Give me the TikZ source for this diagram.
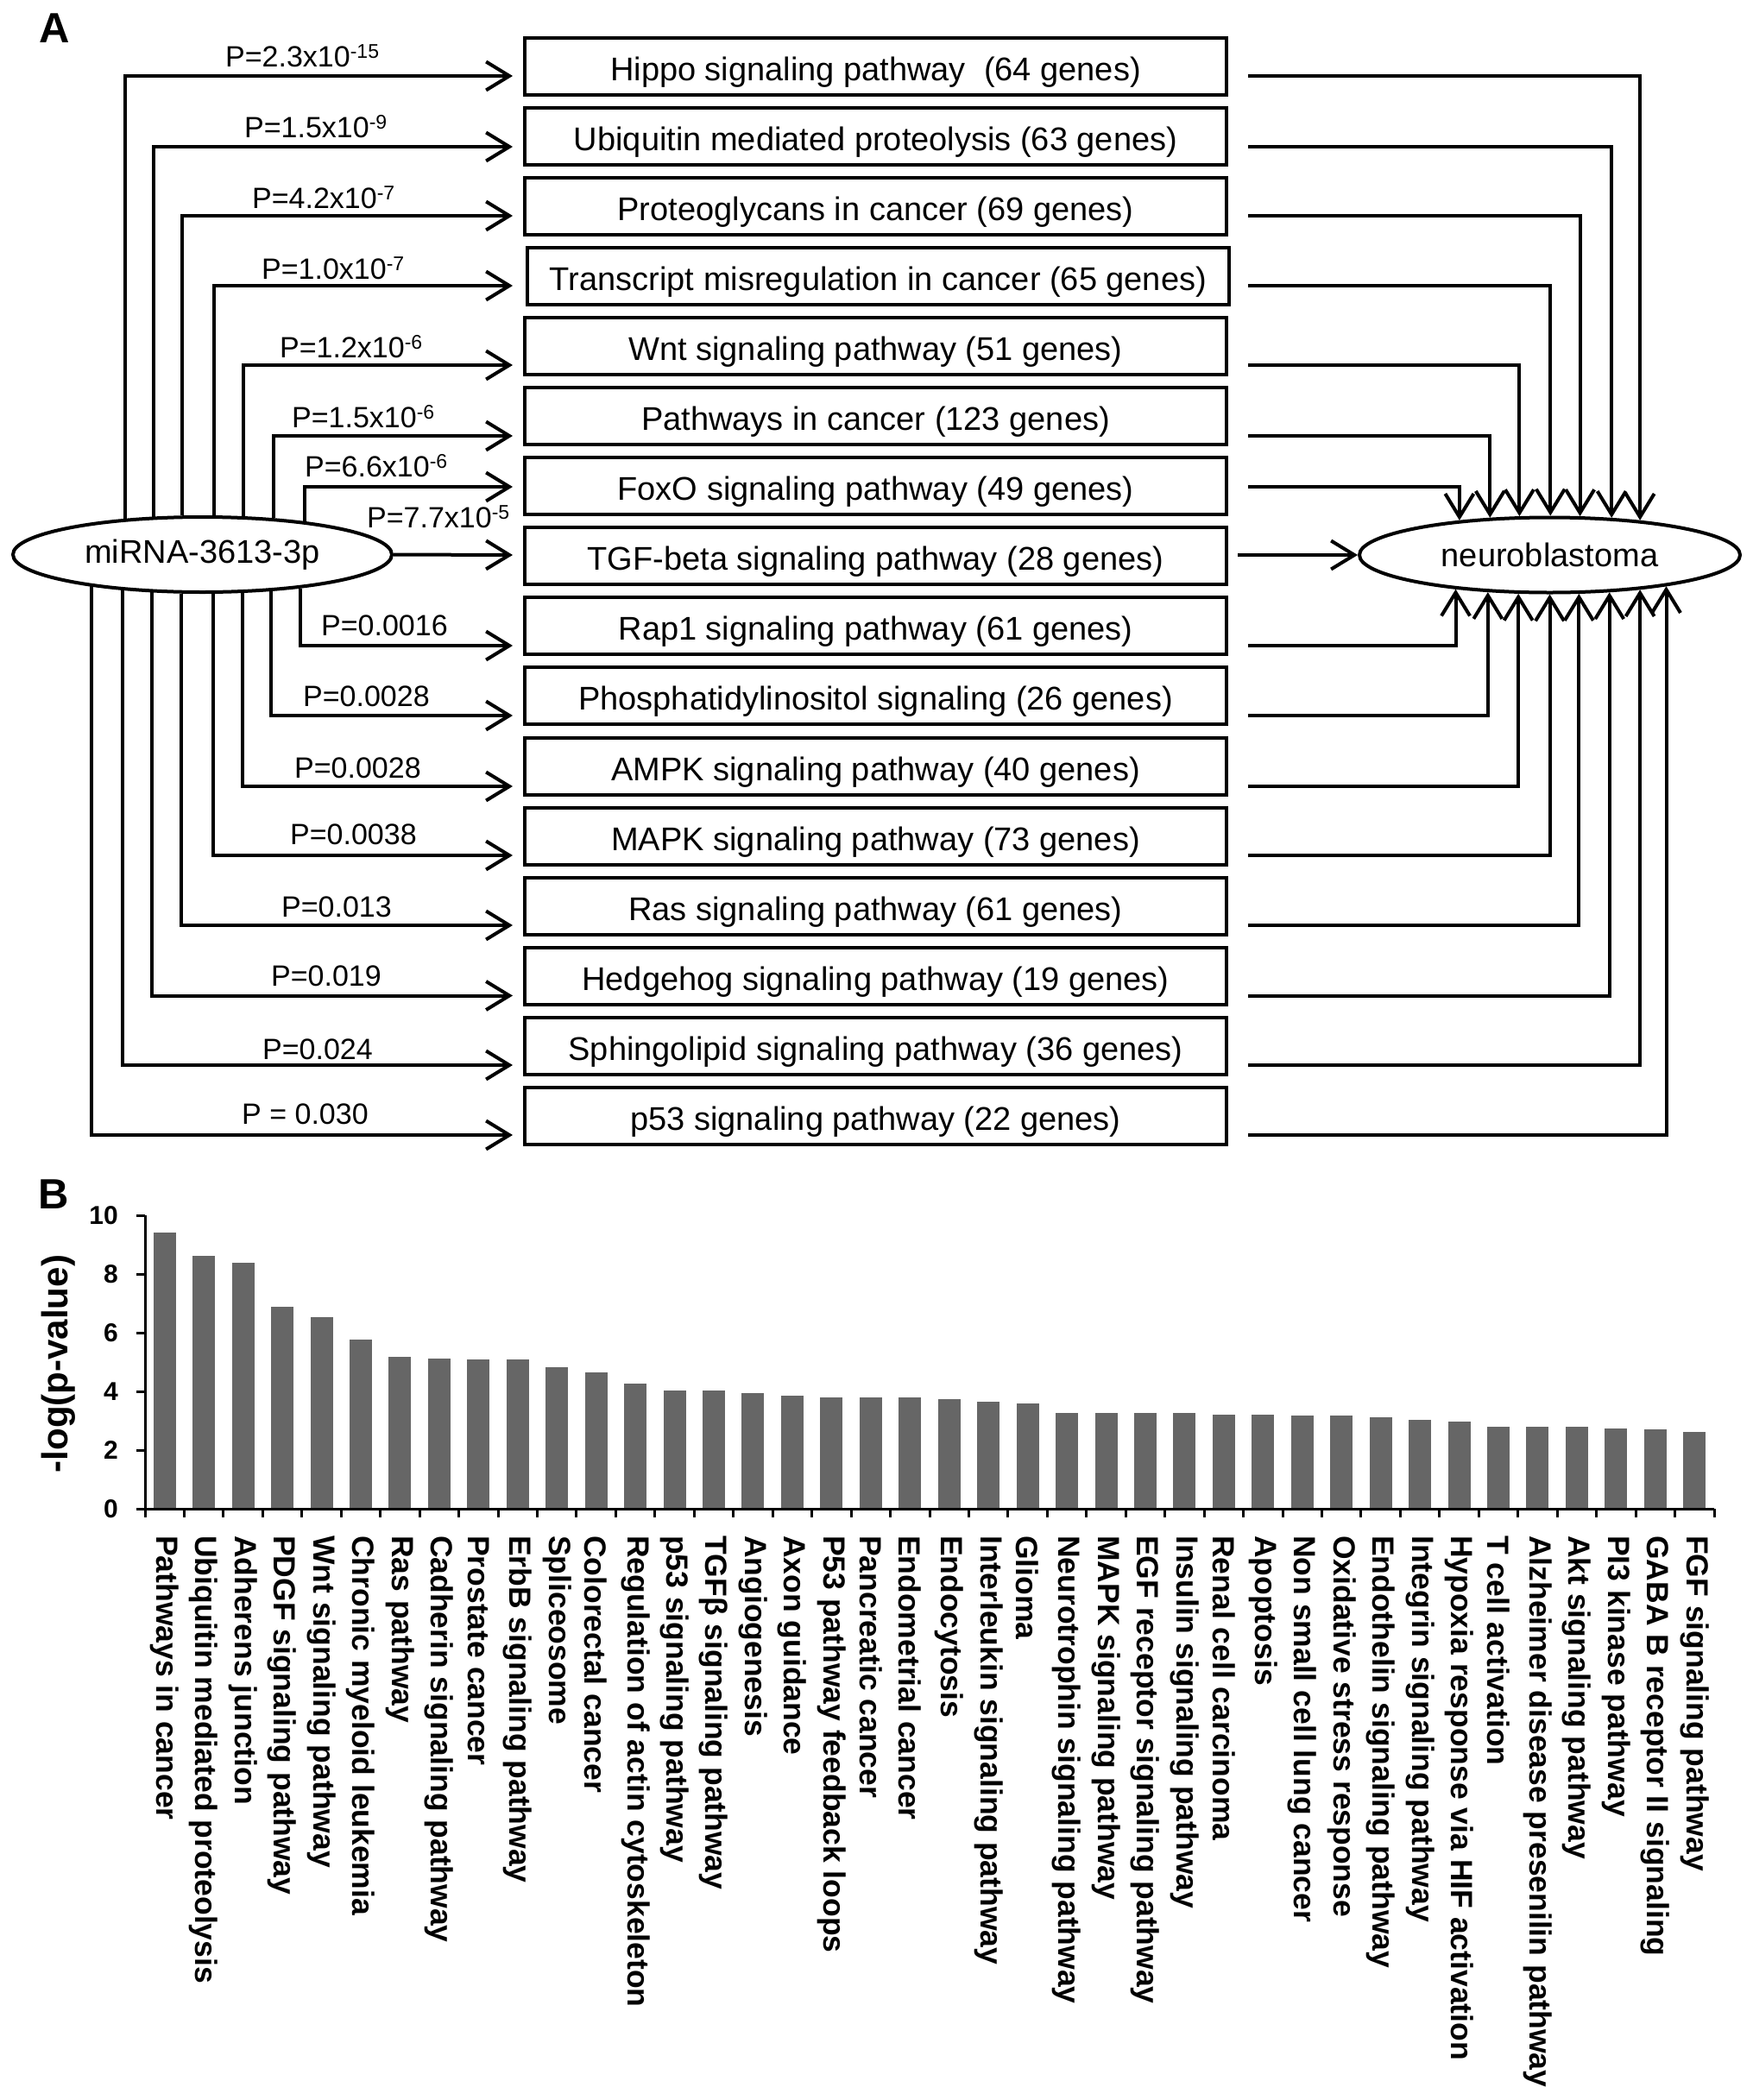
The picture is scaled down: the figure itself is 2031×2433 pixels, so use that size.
\documentclass[tikz,border=0pt]{standalone}
\usepackage{fontspec}
\setmainfont{Liberation Sans}
\usetikzlibrary{arrows.meta,shapes.geometric}
\newcommand{\myfs}[1]{\fontsize{#1}{#1}\selectfont}
\newcommand{\pexp}[1]{\raisebox{10pt}{\myfs{23}#1}}
\definecolor{barc}{HTML}{666666}
\tikzset{
  box/.style={draw, line width=4pt, minimum width=813pt, minimum height=66pt, inner sep=0pt, text height=33pt, text depth=0pt, font=\myfs{38}},
  oval/.style={draw, ellipse, line width=4pt, minimum height=87pt, inner sep=0pt, font=\myfs{38}},
  conn/.style={line width=4pt, -{Straight Barb[length=27pt,width=33pt]}},
  plab/.style={anchor=base west, inner sep=0pt, font=\myfs{34}},
  panel/.style={anchor=base west, inner sep=0pt, font=\bfseries\myfs{49}},
  cat/.style={rotate=-90, anchor=west, inner sep=0pt, font=\bfseries\myfs{35.5}},
  ylab/.style={anchor=east, inner sep=0pt, font=\bfseries\myfs{30}},
  axis/.style={line width=3pt},
  bar/.style={fill=barc}
}
\begin{document}
\begin{tikzpicture}[x=1pt,y=-1pt]
\useasboundingbox (0,0) rectangle (2031,2433);
% ---------- Panel A ----------
\node[panel] (pA) at (45,49) {A};
\node[oval, minimum width=439pt] (mirna) at (234.5,642.5) {miRNA-3613-3p};
\node[oval, minimum width=441pt] (neuro) at (1795.5,643) {neuroblastoma};
\foreach \i/\txt in {
 1/{Hippo signaling pathway \ (64 genes)},
 2/{Ubiquitin mediated proteolysis (63 genes)},
 3/{Proteoglycans in cancer (69 genes)},
 5/{Wnt signaling pathway (51 genes)},
 6/{Pathways in cancer (123 genes)},
 7/{FoxO signaling pathway (49 genes)},
 8/{TGF-beta signaling pathway (28 genes)},
 9/{Rap1 signaling pathway (61 genes)},
 10/{Phosphatidylinositol signaling (26 genes)},
 11/{AMPK signaling pathway (40 genes)},
 12/{MAPK signaling pathway (73 genes)},
 13/{Ras signaling pathway (61 genes)},
 14/{Hedgehog signaling pathway (19 genes)},
 15/{Sphingolipid signaling pathway (36 genes)},
 16/{p53 signaling pathway (22 genes)}}
  \node[box] (b\i) at (1014.5,{76.5+81.1*(\i-1)}) {\txt};
\node[box] (b4) at (1017.5,{76.5+81.1*3}) {Transcript misregulation in cancer (65 genes)};
% connectors
\foreach \i/\ly/\al/\ar in {
 1/88/155.9/21.0, 2/170/142.6/31.5, 3/250/117.45/52.5, 4/331/74.6/89.4,
 5/423/43.1/128.3, 6/505/27.1/148.5, 7/564/18.2/159.2,
 9/748/341.8/200.8, 10/829/332.9/211.5, 11/911/316.9/231.7, 12/991/285.4/270.6,
 13/1072/242.55/307.5, 14/1153.5/217.4/328.5, 15/1234/204.1/339.0, 16/1315/196.1/345.75}{
  \coordinate (t\i) at (594,\ly);
  \coordinate (s\i) at (1446,\ly);
  \draw[conn] (mirna.\al) |- (t\i);
  \draw[conn] (s\i) -| (neuro.\ar);
}
\coordinate (t8) at (594,643);
\coordinate (s8) at (1434,643);
\draw[conn] (mirna.east) -- (t8);
\draw[conn] (s8) -- (neuro.west);
% p-value labels
\node[plab] (p1) at (261,77) {P=2.3x10\pexp{-15}};
\node[plab] (p2) at (283,159) {P=1.5x10\pexp{-9}};
\node[plab] (p3) at (292,241) {P=4.2x10\pexp{-7}};
\node[plab] (p4) at (303,323) {P=1.0x10\pexp{-7}};
\node[plab] (p5) at (324,414) {P=1.2x10\pexp{-6}};
\node[plab] (p6) at (338,495.5) {P=1.5x10\pexp{-6}};
\node[plab] (p7) at (353,552) {P=6.6x10\pexp{-6}};
\node[plab] (p8) at (425,611.6) {P=7.7x10\pexp{-5}};
\node[plab] (p9) at (372,736) {P=0.0016};
\node[plab] (p10) at (351,818) {P=0.0028};
\node[plab] (p11) at (341,901) {P=0.0028};
\node[plab] (p12) at (336,978) {P=0.0038};
\node[plab] (p13) at (326,1062) {P=0.013};
\node[plab] (p14) at (314,1142) {P=0.019};
\node[plab] (p15) at (304,1227) {P=0.024};
\node[plab] (p16) at (280,1302) {P = 0.030};
% ---------- Panel B ----------
\node[panel] (pB) at (44,1400) {B};
\node[rotate=90, inner sep=0pt, font=\bfseries\myfs{42}] (ytitle) at (68,1580) {-log(p-value)};
\foreach \v/\name [count=\i] in {
 9.41/Pathways in cancer, 8.62/Ubiquitin mediated proteolysis, 8.38/Adherens junction,
 6.88/PDGF signaling pathway, 6.53/Wnt signaling pathway, 5.76/Chronic myeloid leukemia,
 5.19/Ras pathway, 5.13/Cadherin signaling pathway, 5.09/Prostate cancer,
 5.09/ErbB signaling pathway, 4.83/Spliceosome, 4.65/Colorectal cancer,
 4.26/Regulation of actin cytoskeleton, 4.04/p53 signaling pathway, 4.04/TGFβ signaling pathway,
 3.95/Angiogenesis, 3.85/Axon guidance, 3.80/P53 pathway feedback loops,
 3.80/Pancreatic cancer, 3.80/Endometrial cancer, 3.75/Endocytosis,
 3.66/Interleukin signaling pathway, 3.58/Glioma, 3.26/Neurotrophin signaling pathway,
 3.26/MAPK signaling pathway, 3.26/EGF receptor signaling pathway, 3.26/Insulin signaling pathway,
 3.21/Renal cell carcinoma, 3.21/Apoptosis, 3.17/Non small cell lung cancer,
 3.17/Oxidative stress response, 3.12/Endothelin signaling pathway, 3.02/Integrin signaling pathway,
 2.97/Hypoxia response via HIF activation, 2.80/T cell activation, 2.80/Alzheimer disease presenilin pathway,
 2.80/Akt signaling pathway, 2.75/PI3 kinase pathway, 2.70/GABA B receptor II signaling,
 2.61/FGF signaling pathway}{
  \fill[bar] ({168+45.45*(\i-0.5)-13},1748) rectangle ++(26,{-34*\v});
  \node[cat] (cat\i) at ({168+45.45*(\i-0.5)},1779) {\name};
}
% axes
\draw[axis] (168,1408) -- (168,1748);
\draw[axis] (158,1748) -- (1986,1748);
\foreach \t in {2,4,...,10} \draw[axis] (158,{1748-34*\t}) -- (168,{1748-34*\t});
\foreach \k in {0,...,40} \draw[axis] ({168+45.45*\k},1748) -- ({168+45.45*\k},1758);
\foreach \t in {0,2,...,10} \node[ylab] (yl\t) at (137,{1748-34*\t}) {\t};
\end{tikzpicture}
\end{document}
